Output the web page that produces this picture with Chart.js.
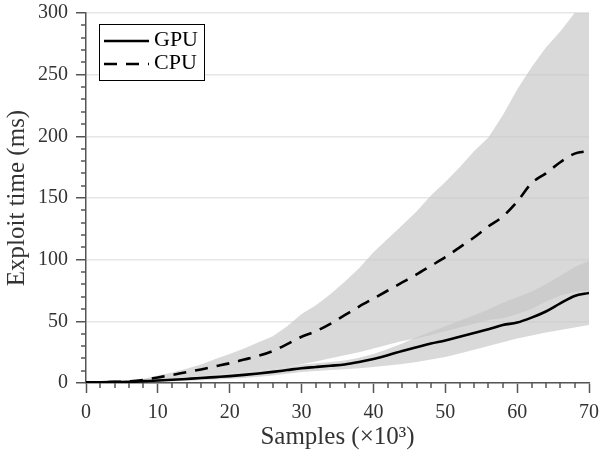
<!DOCTYPE html>
<html>
<head>
<meta charset="utf-8">
<script src="https://cdn.jsdelivr.net/npm/chart.js@4.4.1/dist/chart.umd.min.js"></script>
<style>
  html, body { margin: 0; padding: 0; background: #fff; }
</style>
</head>
<body>
<canvas id="exploitChart" width="600" height="455"></canvas>
<script>
// Samples in thousands
const samples = [0, 2, 4, 6, 8, 10, 12, 14, 16, 18, 20, 22, 24, 26, 28, 30, 32, 34,
                 36, 38, 40, 42, 44, 46, 48, 50, 52, 54, 56, 58, 60, 62, 64, 66, 68, 70];

// mean exploit time (ms)
const gpuMean = [0.5, 0.6, 0.8, 1.0, 1.5, 2.0, 2.6, 3.3, 4.0, 4.8, 5.6, 6.6, 7.7, 9.0, 10.5, 12.0, 13.0, 14.0,
                 15.0, 17.0, 19.5, 22.5, 26.0, 29.0, 32.0, 34.5, 37.5, 40.5, 43.5, 47.0, 49.0, 53.0, 58.0, 64.5, 70.5, 73.0];
const cpuMean = [0.5, 0.6, 0.9, 1.3, 2.5, 4.5, 6.5, 8.8, 11.0, 13.5, 16.0, 19.0, 22.0, 26.0, 31.5, 37.5, 42.0, 48.0,
                 55.0, 62.0, 68.5, 75.0, 81.5, 88.0, 95.0, 102.0, 110.0, 118.0, 127.0, 135.0, 147.0, 162.0, 170.0, 179.0, 186.0, 188.0];

// spread bands
const gpuLow  = [0.4, 0.5, 0.6, 0.7, 0.9, 1.1, 1.4, 1.8, 2.3, 2.8, 3.4, 4.1, 5.0, 6.0, 7.5, 9.0, 9.8, 10.5,
                 11.2, 12.0, 13.0, 14.2, 15.5, 17.0, 19.0, 21.0, 24.0, 27.0, 30.0, 33.0, 36.0, 38.5, 41.0, 43.0, 45.0, 47.0];
const gpuHigh = [0.6, 0.8, 1.1, 1.5, 2.2, 3.0, 3.8, 4.7, 5.6, 6.6, 7.6, 8.7, 9.9, 11.3, 13.0, 14.8, 16.0, 17.0,
                 18.3, 20.5, 23.5, 27.5, 32.0, 37.0, 41.5, 46.0, 50.5, 55.0, 59.5, 65.0, 69.5, 74.0, 80.0, 87.0, 94.0, 99.0];
const cpuLow  = [0.6, 0.8, 1.1, 1.5, 2.2, 3.0, 3.8, 4.7, 5.6, 6.6, 7.6, 8.7, 9.9, 11.3, 13.0, 15.2, 17.5, 20.0,
                 22.5, 25.0, 28.0, 31.0, 34.0, 36.0, 39.0, 42.0, 45.0, 48.0, 51.0, 52.5, 56.0, 60.0, 66.0, 71.0, 74.0, 75.0];
const cpuHigh = [0.7, 0.9, 1.2, 1.9, 3.5, 6.0, 8.5, 11.5, 15.0, 19.5, 23.5, 28.0, 33.0, 38.0, 46.0, 56.0, 63.0, 72.0,
                 82.0, 93.0, 106.0, 117.0, 128.0, 139.0, 152.0, 163.0, 175.0, 188.0, 199.0, 217.0, 238.0, 256.0, 272.0, 285.0, 300.0, 312.0];

const xTicks = [0, 10, 20, 30, 40, 50, 60, 70];
const yTicks = [0, 50, 100, 150, 200, 250, 300];

const serif = '"Liberation Serif", "Times New Roman", serif';
const axisGray = '#555';
const bandFill = 'rgba(197, 197, 197, 0.66)';

const toPoints = ys => ys.map((y, i) => ({ x: samples[i], y: y }));

// minor ticks every 2 (x) and every 10 (y), shorter than the major ones
const minorTicks = {
  id: 'minorTicks',
  afterDraw(chart) {
    const { ctx, scales: { x, y } } = chart;
    ctx.save();
    ctx.strokeStyle = axisGray;
    ctx.lineWidth = 1.5;
    ctx.beginPath();
    for (let v = x.min; v <= x.max; v += 2) {
      if (xTicks.includes(v)) continue;
      const px = Math.round(x.getPixelForValue(v));
      ctx.moveTo(px, x.top);
      ctx.lineTo(px, x.top + 5);
    }
    for (let v = y.min; v <= y.max; v += 10) {
      if (yTicks.includes(v)) continue;
      const py = Math.round(y.getPixelForValue(v));
      ctx.moveTo(y.right - 5, py);
      ctx.lineTo(y.right, py);
    }
    ctx.stroke();
    ctx.restore();
  }
};

// boxed legend in the top-left corner of the plot
const boxLegend = {
  id: 'boxLegend',
  afterDraw(chart) {
    const { ctx, chartArea } = chart;
    const x0 = Math.round(chartArea.left) + 13;
    const y0 = Math.round(chartArea.top) + 11;
    ctx.save();
    ctx.fillStyle = '#fff';
    ctx.fillRect(x0, y0, 105, 56);
    ctx.strokeStyle = '#000';
    ctx.lineWidth = 1;
    ctx.strokeRect(x0 + 0.5, y0 + 0.5, 105, 56);
    [0, 1].forEach((idx, row) => {
      const ds = chart.data.datasets[idx];
      const ly = y0 + 17 + row * 23;
      ctx.setLineDash(ds.borderDash || []);
      ctx.lineWidth = ds.borderWidth;
      ctx.strokeStyle = ds.borderColor;
      ctx.beginPath();
      ctx.moveTo(x0 + 5, ly);
      ctx.lineTo(x0 + 50, ly);
      ctx.stroke();
      ctx.setLineDash([]);
      ctx.fillStyle = '#000';
      ctx.font = '22px ' + serif;
      ctx.textBaseline = 'middle';
      ctx.fillText(ds.label, x0 + 55, ly - 1);
    });
    ctx.restore();
  }
};

const ctx = document.getElementById('exploitChart').getContext('2d');
const exploitChart = new Chart(ctx, {
  type: 'line',
  data: {
    datasets: [
      { label: 'GPU', data: toPoints(gpuMean), borderColor: '#000', borderWidth: 2.6,
        pointRadius: 0, fill: false, cubicInterpolationMode: 'monotone' },
      { label: 'CPU', data: toPoints(cpuMean), borderColor: '#000', borderWidth: 2.6, borderDash: [13, 9],
        pointRadius: 0, fill: false, cubicInterpolationMode: 'monotone' },
      { label: 'CPU low', data: toPoints(cpuLow), borderWidth: 0, borderColor: 'transparent',
        pointRadius: 0, fill: false },
      { label: 'CPU high', data: toPoints(cpuHigh), borderWidth: 0, borderColor: 'transparent',
        pointRadius: 0, fill: 2, backgroundColor: bandFill },
      { label: 'GPU low', data: toPoints(gpuLow), borderWidth: 0, borderColor: 'transparent',
        pointRadius: 0, fill: false },
      { label: 'GPU high', data: toPoints(gpuHigh), borderWidth: 0, borderColor: 'transparent',
        pointRadius: 0, fill: 4, backgroundColor: bandFill }
    ]
  },
  options: {
    responsive: false,
    animation: false,
    layout: { padding: { top: 13, right: 11, left: 0, bottom: 0 } },
    plugins: {
      legend: { display: false },
      tooltip: { enabled: false }
    },
    scales: {
      x: {
        type: 'linear',
        min: 0,
        max: 70,
        afterBuildTicks: axis => { axis.ticks = xTicks.map(v => ({ value: v })); },
        afterFit: axis => {
          axis.height = 72;
          axis.paddingLeft = 0;
          axis.paddingRight = 0;
        },
        grid: { drawOnChartArea: false, tickLength: 10, tickColor: axisGray, tickWidth: 1.5 },
        border: { color: axisGray, width: 1.5 },
        ticks: { color: '#333', padding: 8, font: { family: serif, size: 20 } },
        title: { display: true, text: 'Samples (×10³)', color: '#333',
                 font: { family: serif, size: 25 }, padding: { top: 0, bottom: 3 } }
      },
      y: {
        min: 0,
        max: 300,
        afterBuildTicks: axis => { axis.ticks = yTicks.map(v => ({ value: v })); },
        afterFit: axis => {
          axis.width = 86;
          axis.paddingTop = 0;
          axis.paddingBottom = 0;
        },
        grid: { color: '#e6e6e6', lineWidth: 1.5, tickLength: 10, tickColor: axisGray, tickWidth: 1.5 },
        border: { color: axisGray, width: 1.5 },
        ticks: { color: '#333', padding: 8, font: { family: serif, size: 20 } },
        title: { display: true, text: 'Exploit time (ms)', color: '#333',
                 font: { family: serif, size: 25 }, padding: { top: 2, bottom: 0 } }
      }
    }
  },
  plugins: [minorTicks, boxLegend]
});
</script>
</body>
</html>
